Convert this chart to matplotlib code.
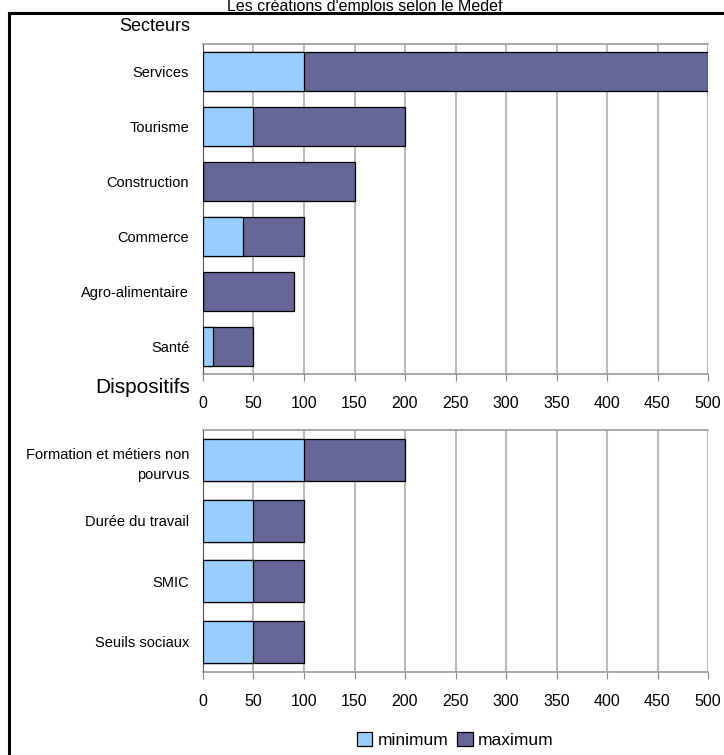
import matplotlib
matplotlib.use("Agg")
import matplotlib.pyplot as plt
from matplotlib.lines import Line2D

# Data
secteurs = ["Services", "Tourisme", "Construction", "Commerce", "Agro-alimentaire", "Santé"]
sect_min = [100, 50, 0, 40, 0, 10]
sect_max = [500, 200, 150, 100, 90, 50]

dispositifs = ["Formation et métiers non\npourvus", "Durée du travail", "SMIC", "Seuils sociaux"]
disp_min = [100, 50, 50, 50]
disp_max = [200, 100, 100, 100]

xticks = [0, 50, 100, 150, 200, 250, 300, 350, 400, 450, 500]

c_min = "#99CCFF"
c_max = "#666699"
font = 'Liberation Sans'

W, H = 724, 755
fig = plt.figure(figsize=(W/100, H/100), dpi=100)

def fx(p): return p / W
def fy(p): return 1 - p / H

ax1 = fig.add_axes([fx(203), fy(374), fx(708) - fx(203), fy(44) - fy(374)])
ax2 = fig.add_axes([fx(203), fy(672), fx(708) - fx(203), fy(430) - fy(672)])

def draw(ax, cats, mins, maxs):
    y = list(range(len(cats)))
    ax.barh(y, maxs, height=0.7, color=c_max, edgecolor="black", linewidth=0.9, zorder=3, label="maximum")
    ax.barh(y, mins, height=0.7, color=c_min, edgecolor="black", linewidth=0.9, zorder=4, label="minimum")
    ax.set_xlim(0, 500)
    ax.set_ylim(len(cats) - 0.5, -0.5)
    ax.set_yticks(y)
    ax.set_yticklabels(cats, fontsize=10.5, family=font, linespacing=1.6)
    ax.set_xticks(xticks)
    ax.set_xticklabels([str(t) for t in xticks], fontsize=11.5, family=font)
    ax.tick_params(axis='y', length=0, pad=10)
    ax.tick_params(axis='x', length=5, color="#888888", pad=11)
    ax.grid(axis='x', color="#BBBBBB", linewidth=1.5, zorder=0)
    for s in ['top', 'right', 'bottom']:
        ax.spines[s].set_color("#999999")
        ax.spines[s].set_linewidth(1.2)
    ax.spines['left'].set_color("#555555")
    ax.spines['right'].set_visible(False)

draw(ax1, secteurs, sect_min, sect_max)
draw(ax2, dispositifs, disp_min, disp_max)

fig.text(fx(190), fy(31), "Secteurs", fontsize=13, ha='right', va='baseline', family=font)
fig.text(fx(190), fy(393), "Dispositifs", fontsize=15, ha='right', va='baseline', family=font)
fig.text(fx(365), fy(10.5), "Les créations d'emplois selon le Medef", fontsize=11.5, ha='center', va='baseline', family=font)

h, l = ax2.get_legend_handles_labels()
fig.legend([h[1], h[0]], [l[1], l[0]], loc='center', bbox_to_anchor=(fx(455), fy(740)),
           ncol=2, frameon=False, handlelength=0.9, handleheight=0.9,
           handletextpad=0.3, columnspacing=0.5, prop={'family': font, 'size': 12.5})

fig.add_artist(Line2D([fx(9), 1], [fy(12.5), fy(12.5)], transform=fig.transFigure, color="black", linewidth=2.2))
fig.add_artist(Line2D([fx(9), fx(9)], [fy(12.5), 0], transform=fig.transFigure, color="black", linewidth=2.2))

fig.savefig("out.png", dpi=100)
